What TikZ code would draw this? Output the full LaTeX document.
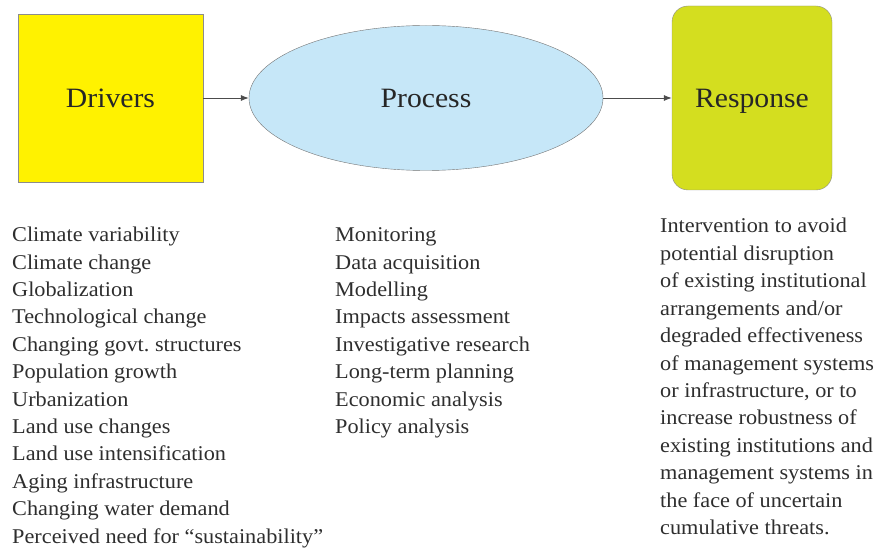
\documentclass[tikz,border=0pt]{standalone}
\usepackage{fontspec}
\setmainfont{Liberation Serif}[FakeStretch=1.06]
\usetikzlibrary{shapes.geometric,arrows.meta}

\definecolor{driveryellow}{HTML}{FFF200}
\definecolor{processblue}{HTML}{C6E7F8}
\definecolor{responsegreen}{HTML}{D4DE1F}

\tikzset{
    heading/.style={font=\fontsize{28}{34}\selectfont, text=black!85, text depth=0pt, inner sep=0pt},
    listline/.style={anchor=base west, inner sep=0pt, font=\fontsize{21}{27}\selectfont, text=black!82},
    flow/.style={draw=black!70, line width=0.8pt, -{Latex[length=8pt,width=6pt]}}
}

\begin{document}
\begin{tikzpicture}[x=1pt, y=-1pt]
        \useasboundingbox (0, 0) rectangle (881, 548);

        \node[heading, draw=black!45, fill=driveryellow, minimum width=185pt, minimum height=168pt] (drivers) at (110.5, 98) {Drivers};
        \node[heading, ellipse, draw=black!55, fill=processblue, minimum width=354pt, minimum height=145pt] (process) at (426, 98) {Process};
        \node[heading, draw=black!45, fill=responsegreen, rounded corners=16pt, minimum width=160pt, minimum height=184pt] (response) at (752, 98) {Response};

        \draw[flow] (drivers.east) -- (process.west);
        \draw[flow] (process.east) -- (response.west);

        % lists under each box
        \foreach \t [count=\i] in {Climate variability, Climate change, Globalization, Technological change, Changing govt.\ structures, Population growth, Urbanization, Land use changes, Land use intensification, Aging infrastructure, Changing water demand, Perceived need for ``sustainability''} {
            \node[listline] (drv\i) at (12, 241.7 + 27.4*\i - 27.4) {\t};
        }
        \foreach \t [count=\i] in {Monitoring, Data acquisition, Modelling, Impacts assessment, Investigative research, Long-term planning, Economic analysis, Policy analysis} {
            \node[listline] (proc\i) at (335, 241.7 + 27.4*\i - 27.4) {\t};
        }
        \foreach \t [count=\i] in {Intervention to avoid, potential disruption, of existing institutional, arrangements and/or, degraded effectiveness, of management systems, {or infrastructure, or to}, increase robustness of, existing institutions and, management systems in, the face of uncertain, cumulative threats.} {
            \node[listline] (resp\i) at (660, 233 + 27.4*\i - 27.4) {\t};
        }
    \end{tikzpicture}
\end{document}
